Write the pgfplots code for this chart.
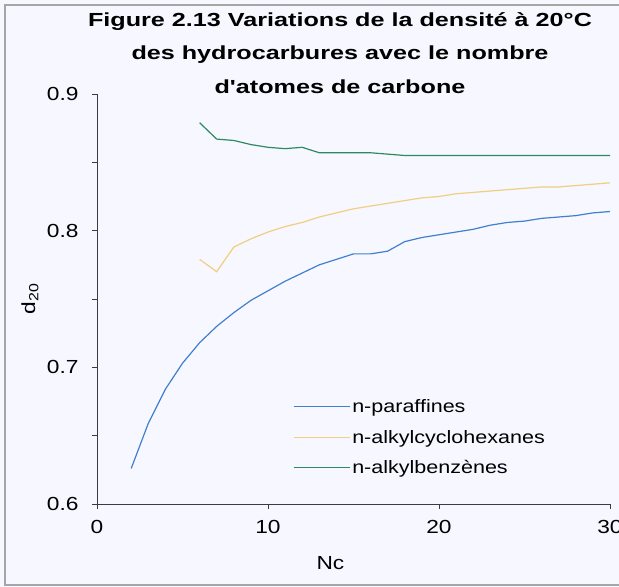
\documentclass[border=0pt]{standalone}
\usepackage{pgfplots}
\pgfplotsset{compat=1.18}
\usepackage{fontspec}
\setmainfont{Liberation Sans}
\newcommand{\sx}[1]{\scalebox{1.2}[1]{#1}}
\newcommand{\tx}[1]{\scalebox{1.33}[1]{#1}}
\definecolor{cblue}{RGB}{64,128,205}
\definecolor{cyel}{RGB}{242,206,128}
\definecolor{cgreen}{RGB}{45,138,95}
\definecolor{axgray}{RGB}{60,60,60}
\begin{document}
\begin{tikzpicture}
\useasboundingbox (0bp,0bp) rectangle (619bp,587bp);
\fill[white!97!blue] (0bp,0bp) rectangle (619bp,587bp);
\draw[gray!70, line width=1.2bp] (5bp,2bp) rectangle (640bp,582bp);
\node[font=\bfseries\fontsize{19}{22}\selectfont] at (340bp,565bp) {\tx{Figure 2.13 Variations de la densité à 20°C}};
\node[font=\bfseries\fontsize{19}{22}\selectfont] at (340bp,532bp) {\tx{des hydrocarbures avec le nombre}};
\node[font=\bfseries\fontsize{19}{22}\selectfont] at (340bp,500bp) {\tx{d\textquotesingle atomes de carbone}};
\begin{axis}[
  at={(97bp,83bp)}, anchor=south west,
  scale only axis, width=513bp, height=410bp,
  xmin=0, xmax=30, ymin=0.6, ymax=0.9,
  axis x line*=bottom, axis y line*=left,
  axis line style={axgray, line width=0.9bp, -},
  xtick={0,10,20,30}, ytick={0.6,0.7,0.8,0.9},
  minor ytick={0.65,0.75,0.85},
  tick align=outside, major tick length=5bp, minor tick length=5bp,
  tick style={axgray, line width=0.9bp},
  yticklabels={\sx{0.6},\sx{0.7},\sx{0.8},\sx{0.9}},
  xticklabels={\sx{0},\sx{10},\sx{20},\sx{30}},
  ticklabel style={font=\fontsize{19}{22}\selectfont},
  yticklabel style={xshift=-10bp},
  xticklabel style={yshift=-8bp},
  xlabel={\sx{Nc}}, ylabel={\sx{d\textsubscript{20}}},
  label style={font=\fontsize{19}{22}\selectfont},
  xlabel style={at={(axis description cs:0.455,0)}, anchor=center, yshift=-59bp},
  ylabel style={at={(axis description cs:0,0.5)}, anchor=center, yshift=67bp},
  legend style={draw=none, fill=none, at={(0.376,0.265)}, anchor=north west,
    font=\fontsize{18}{21}\selectfont, row sep=12bp},
  legend cell align=left,
  legend image code/.code={\fill[#1, draw=none] (0bp,-0.6bp) rectangle (50bp,0.6bp); \path (0bp,0bp) -- (56bp,0bp);},
  clip=false,
]
\addplot[color=cblue, line width=1.2bp] coordinates {
(2,0.626)(3,0.659)(4,0.684)(5,0.703)(6,0.718)(7,0.730)(8,0.740)(9,0.749)(10,0.756)
(11,0.763)(12,0.769)(13,0.775)(14,0.779)(15,0.783)(16,0.783)(17,0.785)(18,0.792)
(19,0.795)(20,0.797)(21,0.799)(22,0.801)(23,0.804)(24,0.806)(25,0.807)(26,0.809)
(27,0.810)(28,0.811)(29,0.813)(30,0.814)};
\addlegendentry{\sx{n-paraffines}}
\addplot[color=cyel, line width=1.2bp] coordinates {
(6,0.779)(7,0.770)(8,0.788)(9,0.794)(10,0.799)(11,0.803)(12,0.806)(13,0.810)
(14,0.813)(15,0.816)(16,0.818)(17,0.820)(18,0.822)(19,0.824)(20,0.825)(21,0.827)
(22,0.828)(23,0.829)(24,0.830)(25,0.831)(26,0.832)(27,0.832)(28,0.833)(29,0.834)(30,0.835)};
\addlegendentry{\sx{n-alkylcyclohexanes}}
\addplot[color=cgreen, line width=1.2bp] coordinates {
(6,0.879)(7,0.867)(8,0.866)(9,0.863)(10,0.861)(11,0.860)(12,0.861)(13,0.857)
(14,0.857)(15,0.857)(16,0.857)(17,0.856)(18,0.855)(19,0.855)(20,0.855)(21,0.855)
(22,0.855)(23,0.855)(24,0.855)(25,0.855)(26,0.855)(27,0.855)(28,0.855)(29,0.855)(30,0.855)};
\addlegendentry{\sx{n-alkylbenzènes}}
\end{axis}
\end{tikzpicture}
\end{document}
